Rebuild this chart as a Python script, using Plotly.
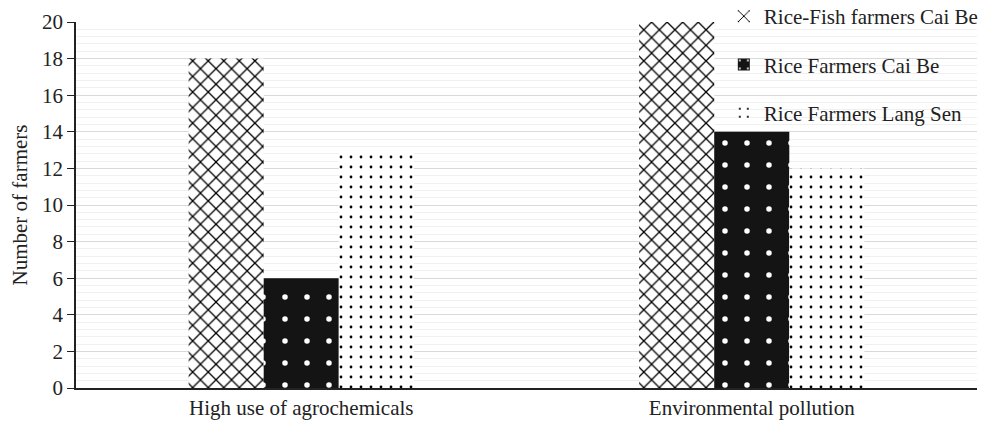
import plotly.graph_objects as go

categories = ["High use of agrochemicals", "Environmental pollution"]
series_names = ["Rice-Fish farmers Cai Be", "Rice Farmers Cai Be", "Rice Farmers Lang Sen"]
rice_fish_cai_be = [18, 20]
rice_cai_be = [6, 14]
rice_lang_sen = [13, 12]

values = [rice_fish_cai_be, rice_cai_be, rice_lang_sen]
patterns = [
    dict(shape="x", fgcolor="black", bgcolor="white", size=11, solidity=0.22, fillmode="replace"),
    dict(shape=".", fgcolor="white", bgcolor="#141414", size=22, solidity=0.05, fillmode="replace"),
    dict(shape=".", fgcolor="black", bgcolor="white", size=10, solidity=0.06, fillmode="replace"),
]

fig = go.Figure()
for i, (name, vals, pat) in enumerate(zip(series_names, values, patterns)):
    fig.add_trace(go.Bar(
        x=categories, y=vals, name=name,
        marker=dict(color="white", pattern=pat, line=dict(width=0)),
        legendgroup=f"g{i}",
    ))

fig.update_layout(
    width=980, height=415,
    margin=dict(l=68, r=11, t=14, b=35, autoexpand=False),
    paper_bgcolor="white", plot_bgcolor="white",
    barmode="group", bargap=0.5, bargroupgap=0,
    font=dict(family="Liberation Serif, Times New Roman, serif", size=21, color="#222222"),
    legend=dict(x=0.719, y=1.071, xanchor="left", yanchor="top",
                bgcolor="rgba(0,0,0,0)", tracegroupgap=18,
                font=dict(size=21)),
    showlegend=True,
)
fig.update_yaxes(
    range=[0, 20], dtick=2, tick0=0,
    showgrid=True, gridcolor="#d9d9d9", gridwidth=1,
    minor=dict(dtick=0.4, showgrid=True, gridcolor="#f0f0f0", gridwidth=1),
    showline=True, linecolor="#222222", linewidth=1.5,
    ticks="outside", ticklen=7, tickcolor="#222222",
    title=dict(text="Number of farmers", standoff=18, font=dict(size=21)),
    zeroline=False, automargin=False,
)
fig.update_xaxes(
    showline=True, linecolor="#222222", linewidth=1.5,
    ticks="", tickfont=dict(size=21), automargin=False,
)

fig.write_html("out.html")
